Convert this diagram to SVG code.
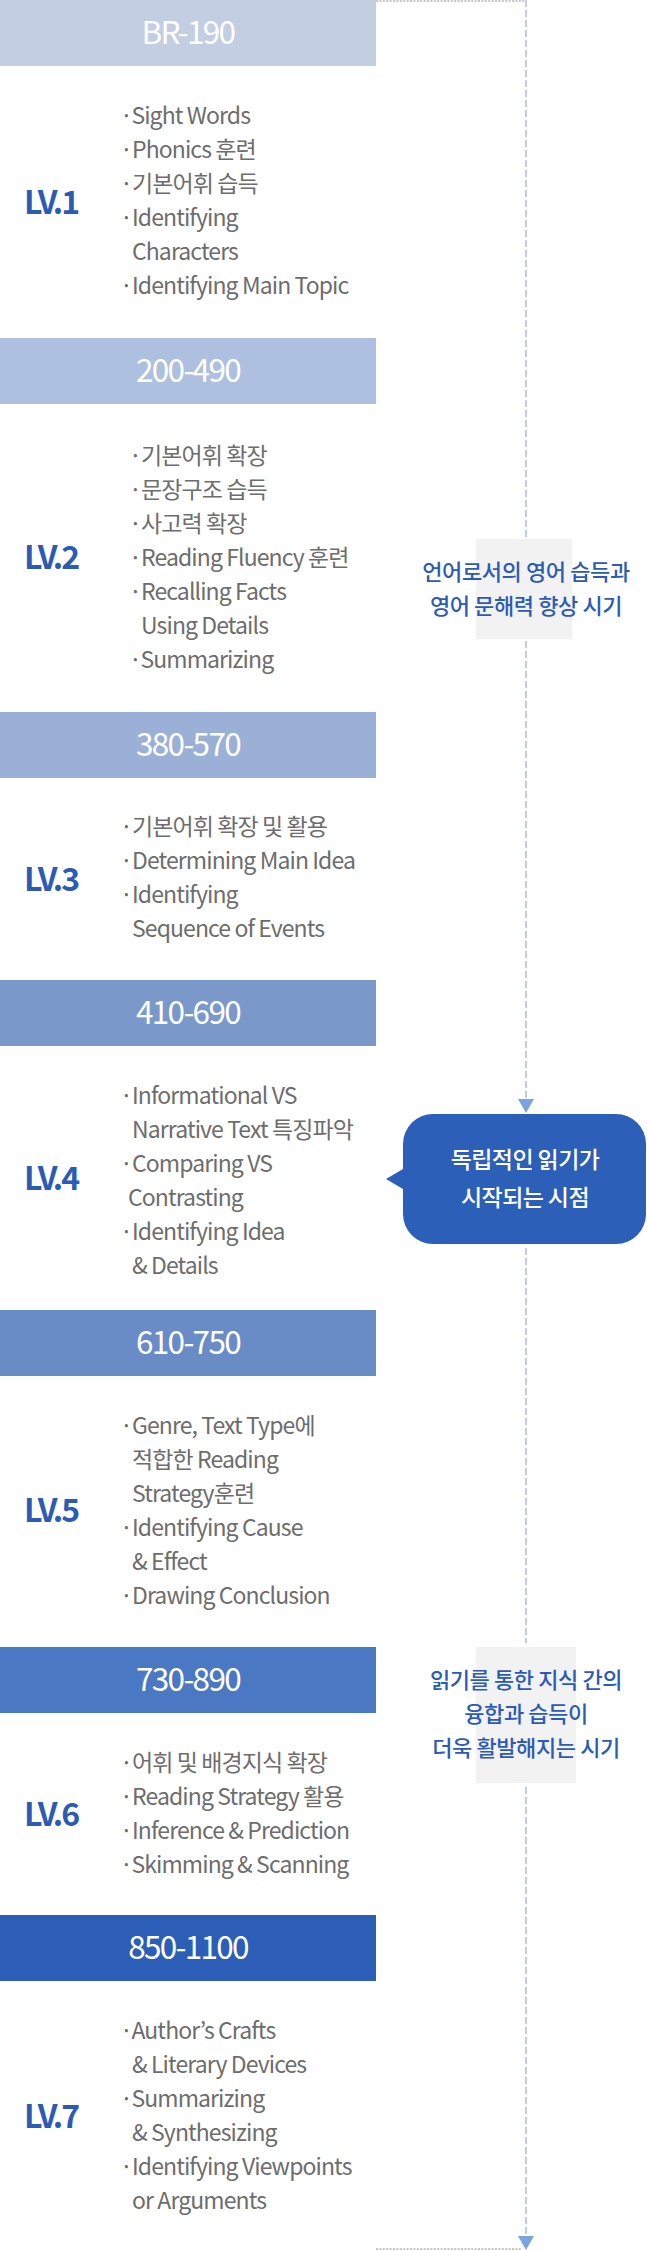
<svg xmlns="http://www.w3.org/2000/svg" width="647" height="2251" viewBox="0 0 647 2251">
<style>
  .bar-t { font-family: "Noto Sans CJK KR", "Noto Sans", sans-serif; font-size: 31.5px; fill: #ffffff; text-anchor: middle; letter-spacing: -1.7px; }
  .lv { font-family: "Noto Sans CJK KR", "Noto Sans", sans-serif; font-size: 32px; font-weight: 700; fill: #2c5bb5; letter-spacing: -2px; }
  .item { font-family: "Noto Sans CJK KR", "Noto Sans", sans-serif; font-size: 23px; fill: #6d6d6d; letter-spacing: -0.9px; }
  .note { font-family: "Noto Sans CJK KR", "Noto Sans", sans-serif; font-size: 22px; font-weight: 500; fill: #2c5bb5; text-anchor: middle; letter-spacing: -0.4px; }
  .bub-t { font-family: "Noto Sans CJK KR", "Noto Sans", sans-serif; font-size: 23px; font-weight: 500; fill: #ffffff; text-anchor: middle; letter-spacing: -0.6px; }
  .dash { stroke: #b9cef0; stroke-width: 2; stroke-dasharray: 7 3; fill: none; }
  .dot { stroke: #c6c6c6; stroke-width: 2; stroke-dasharray: 2 1.4; fill: none; }
  .head { fill: #7aa3df; }
  .notebg { fill: #f2f2f2; }
</style>

<g id="connectors">
  <line class="dot" x1="376" y1="1" x2="526" y2="1"/>
  <line class="dash" x1="526" y1="0" x2="526" y2="537"/>
  <line class="dash" x1="526" y1="641" x2="526" y2="1099"/>
  <polygon class="head" points="518,1099 534,1099 526,1113"/>
  <line class="dash" x1="526" y1="1248" x2="526" y2="1643"/>
  <line class="dash" x1="526" y1="1787" x2="526" y2="2236"/>
  <polygon class="head" points="518,2236 534,2236 526,2250"/>
  <line class="dot" x1="376" y1="2249" x2="522" y2="2249"/>
</g>

<g id="level1">
  <rect x="0" y="0" width="376" height="66" fill="#c2cee2"/>
  <text class="bar-t" x="188" y="44">BR-190</text>
  <text class="lv" x="24" y="214">LV.1</text>
  <text class="item" x="120" y="124">·Sight Words</text>
  <text class="item" x="120" y="158">·Phonics 훈련</text>
  <text class="item" x="120" y="192">·기본어휘 습득</text>
  <text class="item" x="120" y="226">·Identifying</text>
  <text class="item" x="132" y="260">Characters</text>
  <text class="item" x="120" y="294">·Identifying Main Topic</text>
</g>

<g id="level2">
  <rect x="0" y="338" width="376" height="66" fill="#adc0df"/>
  <text class="bar-t" x="188" y="382">200-490</text>
  <text class="lv" x="24" y="569">LV.2</text>
  <text class="item" x="129" y="464">·기본어휘 확장</text>
  <text class="item" x="129" y="498">·문장구조 습득</text>
  <text class="item" x="129" y="532">·사고력 확장</text>
  <text class="item" x="129" y="566">·Reading Fluency 훈련</text>
  <text class="item" x="129" y="600">·Recalling Facts</text>
  <text class="item" x="141" y="634">Using Details</text>
  <text class="item" x="129" y="668">·Summarizing</text>
</g>

<g id="level3">
  <rect x="0" y="712" width="376" height="66" fill="#9bb0d7"/>
  <text class="bar-t" x="188" y="756">380-570</text>
  <text class="lv" x="24" y="891">LV.3</text>
  <text class="item" x="120" y="835">·기본어휘 확장 및 활용</text>
  <text class="item" x="120" y="869">·Determining Main Idea</text>
  <text class="item" x="120" y="903">·Identifying</text>
  <text class="item" x="132" y="937">Sequence of Events</text>
</g>

<g id="level4">
  <rect x="0" y="980" width="376" height="66" fill="#7b98ca"/>
  <text class="bar-t" x="188" y="1024">410-690</text>
  <text class="lv" x="24" y="1190">LV.4</text>
  <text class="item" x="120" y="1104">·Informational VS</text>
  <text class="item" x="132" y="1138">Narrative Text 특징파악</text>
  <text class="item" x="120" y="1172">·Comparing VS</text>
  <text class="item" x="128" y="1206">Contrasting</text>
  <text class="item" x="120" y="1240">·Identifying Idea</text>
  <text class="item" x="132" y="1274">&amp; Details</text>
</g>

<g id="level5">
  <rect x="0" y="1310" width="376" height="66" fill="#6a8cc6"/>
  <text class="bar-t" x="188" y="1354">610-750</text>
  <text class="lv" x="24" y="1522">LV.5</text>
  <text class="item" x="120" y="1434">·Genre, Text Type에</text>
  <text class="item" x="132" y="1468">적합한 Reading</text>
  <text class="item" x="132" y="1502">Strategy훈련</text>
  <text class="item" x="120" y="1536">·Identifying Cause</text>
  <text class="item" x="132" y="1570">&amp; Effect</text>
  <text class="item" x="120" y="1604">·Drawing Conclusion</text>
</g>

<g id="level6">
  <rect x="0" y="1647" width="376" height="66" fill="#4b78c2"/>
  <text class="bar-t" x="188" y="1691">730-890</text>
  <text class="lv" x="24" y="1826">LV.6</text>
  <text class="item" x="120" y="1771">·어휘 및 배경지식 확장</text>
  <text class="item" x="120" y="1805">·Reading Strategy 활용</text>
  <text class="item" x="120" y="1839">·Inference &amp; Prediction</text>
  <text class="item" x="120" y="1873">·Skimming &amp; Scanning</text>
</g>

<g id="level7">
  <rect x="0" y="1915" width="376" height="66" fill="#2c5db7"/>
  <text class="bar-t" x="188" y="1959">850-1100</text>
  <text class="lv" x="24" y="2128">LV.7</text>
  <text class="item" x="120" y="2039">·Author’s Crafts</text>
  <text class="item" x="132" y="2073">&amp; Literary Devices</text>
  <text class="item" x="120" y="2107">·Summarizing</text>
  <text class="item" x="132" y="2141">&amp; Synthesizing</text>
  <text class="item" x="120" y="2175">·Identifying Viewpoints</text>
  <text class="item" x="132" y="2209">or Arguments</text>
</g>

<g id="note1">
  <rect class="notebg" x="476" y="539" width="96" height="100"/>
  <text class="note" x="526" y="580">언어로서의 영어 습득과</text>
  <text class="note" x="526" y="614">영어 문해력 향상 시기</text>
</g>

<g id="bubble">
  <path d="M433 1114 H616 A30 30 0 0 1 646 1144 V1214 A30 30 0 0 1 616 1244 H433 A30 30 0 0 1 403 1214 V1189 L386 1179 L403 1169 V1144 A30 30 0 0 1 433 1114 Z" fill="#2c5fb7"/>
  <text class="bub-t" x="525" y="1168">독립적인 읽기가</text>
  <text class="bub-t" x="525" y="1206">시작되는 시점</text>
</g>

<g id="note2">
  <rect class="notebg" x="476" y="1647" width="100" height="136"/>
  <text class="note" x="526" y="1688">읽기를 통한 지식 간의</text>
  <text class="note" x="526" y="1722">융합과 습득이</text>
  <text class="note" x="526" y="1756">더욱 활발해지는 시기</text>
</g>
</svg>
